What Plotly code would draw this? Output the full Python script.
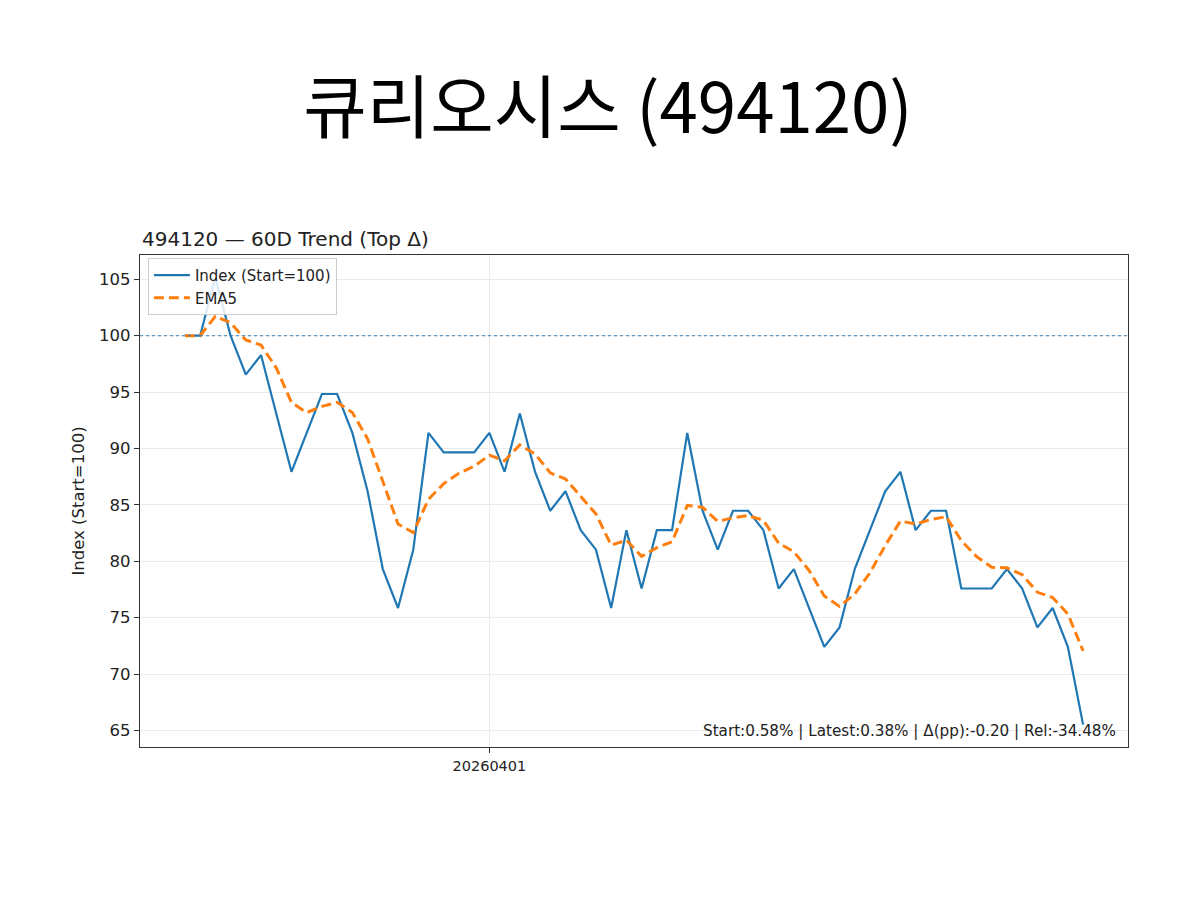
import plotly.graph_objects as go

# ---- data ----
day_idx = list(range(60))
index_vals = [100.00, 100.00, 105.17, 100.00, 96.55, 98.28, 93.10, 87.93, 91.38, 94.83,
              94.83, 91.38, 86.21, 79.31, 75.86, 81.03, 91.38, 89.66, 89.66, 89.66,
              91.38, 87.93, 93.10, 87.93, 84.48, 86.21, 82.76, 81.03, 75.86, 82.76,
              77.59, 82.76, 82.76, 91.38, 84.48, 81.03, 84.48, 84.48, 82.76, 77.59,
              79.31, 75.86, 72.41, 74.14, 79.31, 82.76, 86.21, 87.93, 82.76, 84.48,
              84.48, 77.59, 77.59, 77.59, 79.31, 77.59, 74.14, 75.86, 72.41, 65.52]
ema5_vals = [100.00, 100.00, 101.72, 101.15, 99.62, 99.17, 97.15, 94.08, 93.18, 93.73,
             94.09, 93.19, 90.86, 87.01, 83.30, 82.54, 85.49, 86.88, 87.80, 88.42,
             89.41, 88.91, 90.31, 89.52, 87.84, 87.30, 85.78, 84.20, 81.42, 81.87,
             80.44, 81.21, 81.73, 84.95, 84.79, 83.54, 83.85, 84.06, 83.63, 81.61,
             80.85, 79.19, 76.93, 76.00, 77.10, 78.99, 81.39, 83.57, 83.30, 83.70,
             83.96, 81.83, 80.42, 79.47, 79.42, 78.81, 77.25, 76.79, 75.33, 72.06]
base_level = 100
x_tick_vals = [20]
x_tick_text = ["20260401"]
y_tick_vals = [65, 70, 75, 80, 85, 90, 95, 100, 105]

title_text = "큐리오시스 (494120)"
subtitle_text = "494120 — 60D Trend (Top Δ)"
stats_text = "Start:0.58% | Latest:0.38% | Δ(pp):-0.20 | Rel:-34.48%"

BLUE = "#1f77b4"
ORANGE = "#ff7f0e"
FONT = "DejaVu Sans"

fig = go.Figure()
fig.add_trace(go.Scatter(x=day_idx, y=index_vals, mode="lines", name="Index (Start=100)",
                         line=dict(color=BLUE, width=2.2)))
fig.add_trace(go.Scatter(x=day_idx, y=ema5_vals, mode="lines", name="EMA5",
                         line=dict(color=ORANGE, width=3, dash="10px,5px")))

fig.add_hline(y=base_level, line=dict(color=BLUE, width=1.1, dash="dot"), opacity=0.9)

n = len(day_idx)
pad = (n - 1) * 0.05
lo, hi = min(index_vals + ema5_vals), max(index_vals + ema5_vals)
ypad = (hi - lo) * 0.05

axis_common = dict(showline=True, mirror=True, linecolor="#333333", linewidth=1.2,
                   ticks="outside", ticklen=5, tickwidth=1.2, tickcolor="#333333",
                   showgrid=True, gridcolor="#ebebeb", gridwidth=1, zeroline=False)

fig.update_layout(
    width=1200, height=900,
    paper_bgcolor="white", plot_bgcolor="white",
    margin=dict(l=132, r=80, t=247, b=161),
    font=dict(family=FONT, color="#222222"),
    title=dict(text=title_text, x=0.5, xanchor="center", xref="container",
               y=1 - 101 / 900, yanchor="middle", yref="container",
               font=dict(family="Noto Sans CJK KR", size=69, color="black")),
    xaxis=dict(range=[-pad, n - 1 + pad], tickvals=x_tick_vals, ticktext=x_tick_text,
               tickfont=dict(size=14.5, family=FONT, color="#222222"), **axis_common),
    yaxis=dict(range=[lo - ypad, hi + ypad], tickvals=y_tick_vals,
               tickfont=dict(size=16.5, family=FONT, color="#222222"),
               title=dict(text="Index (Start=100)", font=dict(size=16.5, family=FONT, color="#222222"),
                          standoff=10),
               **axis_common),
    legend=dict(x=0.008, y=0.994, xanchor="left", yanchor="top",
                bgcolor="rgba(255,255,255,0.85)", bordercolor="#cccccc", borderwidth=1,
                font=dict(size=15, family=FONT, color="#222222"),
                itemwidth=36, tracegroupgap=0),
    showlegend=True,
    annotations=[
        dict(text=subtitle_text, xref="paper", yref="paper", x=0, y=1,
             xanchor="left", yanchor="bottom", yshift=2, showarrow=False,
             font=dict(size=20, family=FONT, color="#222222")),
        dict(text=stats_text, xref="paper", yref="paper", x=0.99, y=0.01,
             xanchor="right", yanchor="bottom", showarrow=False,
             font=dict(size=15.2, family=FONT, color="#222222")),
    ],
)

fig.write_html("out.html")
